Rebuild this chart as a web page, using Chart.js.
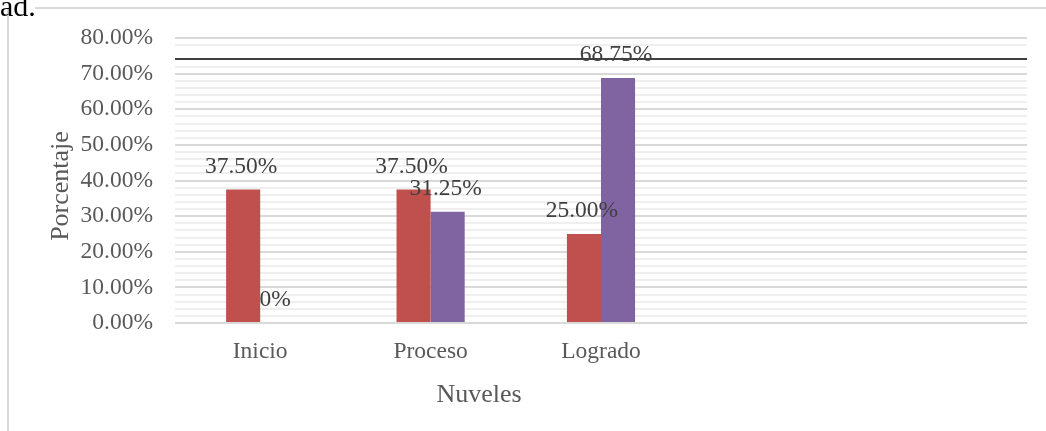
<!DOCTYPE html>
<html>
<head>
<meta charset="utf-8">
<script src="https://cdn.jsdelivr.net/npm/chart.js@4/dist/chart.umd.min.js"></script>
<style>
  html, body { margin: 0; padding: 0; background: #fff; }
  #wrap { width: 1046px; height: 431px; }
</style>
</head>
<body>
<div id="wrap"><canvas id="chart"></canvas></div>
<script>
const NIVELES = ['Inicio', 'Proceso', 'Logrado', '', ''];
const SERIE_1 = [37.5, 37.5, 25, null, null];
const SERIE_2 = [0, 31.25, 68.75, null, null];
const Y_MAX = 80;
const Y_STEP = 2;

const FONT = "'Liberation Serif', 'Times New Roman', serif";

const fmt = (v) => (v === 0 ? '0%' : v.toFixed(2) + '%');

// etiquetas de datos + titulos y adornos de la pagina
const decor = {
  id: 'decor',
  afterDatasetsDraw(chart) {
    const ctx = chart.ctx;
    ctx.save();
    ctx.font = '23.5px ' + FONT;
    ctx.fillStyle = '#404040';
    ctx.textAlign = 'center';
    ctx.textBaseline = 'middle';
    chart.data.datasets.forEach((ds, i) => {
      chart.getDatasetMeta(i).data.forEach((bar, j) => {
        const v = ds.data[j];
        if (v === null) return;
        ctx.fillText(fmt(v), bar.x - 2, bar.y - 23);
      });
    });
    ctx.restore();
  },
  afterDraw(chart) {
    const ctx = chart.ctx;
    ctx.save();
    ctx.strokeStyle = '#d9d9d9';
    ctx.lineWidth = 2;
    ctx.beginPath();
    ctx.moveTo(35, 8);
    ctx.lineTo(1046, 8);
    ctx.moveTo(8, 8);
    ctx.lineTo(8, 431);
    ctx.stroke();

    ctx.fillStyle = '#000';
    ctx.font = '30px ' + FONT;
    ctx.textAlign = 'left';
    ctx.textBaseline = 'alphabetic';
    ctx.fillText('ad.', 0, 16);

    ctx.fillStyle = '#595959';
    ctx.font = '26px ' + FONT;
    ctx.textAlign = 'center';
    ctx.textBaseline = 'middle';
    ctx.fillText('Nuveles', 479, 395);
    ctx.translate(61, 186);
    ctx.rotate(-Math.PI / 2);
    ctx.fillText('Porcentaje', 0, 0);
    ctx.restore();
  }
};

new Chart(document.getElementById('chart'), {
  type: 'bar',
  data: {
    labels: NIVELES,
    datasets: [
      { label: 'Serie 1', data: SERIE_1, backgroundColor: '#C0504D' },
      { label: 'Serie 2', data: SERIE_2, backgroundColor: '#8064A2' }
    ]
  },
  options: {
    responsive: true,
    maintainAspectRatio: false,
    animation: false,
    layout: { padding: { left: 0, top: 38, right: 19, bottom: 0 } },
    datasets: { bar: { categoryPercentage: 0.4, barPercentage: 1 } },
    plugins: { legend: { display: false }, tooltip: { enabled: false } },
    scales: {
      x: {
        grid: { display: false },
        border: { display: false },
        ticks: { color: '#595959', font: { family: FONT, size: 23.5 }, padding: 7 },
        afterFit: (s) => { s.height = 108; }
      },
      y: {
        min: 0,
        max: Y_MAX,
        border: { display: false },
        grid: {
          drawTicks: false,
          color: (c) => {
            const v = Math.round(c.tick.value);
            if (v === 74) return '#404040';
            if (v === 76) return 'rgba(0,0,0,0)';
            return v % 10 === 0 ? '#d9d9d9' : '#efefef';
          },
          lineWidth: 2
        },
        ticks: {
          stepSize: Y_STEP,
          autoSkip: false,
          padding: 22,
          color: '#595959',
          font: { family: FONT, size: 23.5 },
          callback: (v) => (Math.round(v) % 10 === 0 ? v.toFixed(2) + '%' : '')
        },
        afterFit: (s) => { s.width = 175; }
      }
    }
  },
  plugins: [decor]
});
</script>
</body>
</html>
